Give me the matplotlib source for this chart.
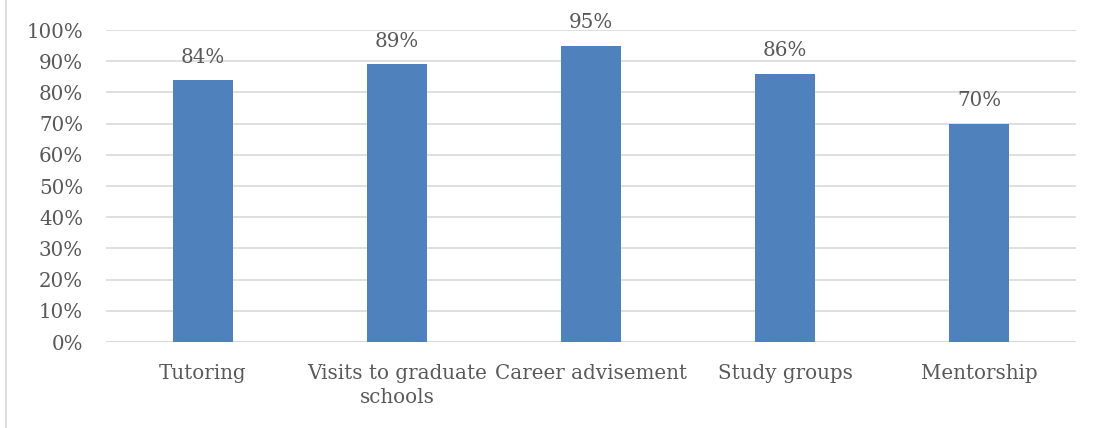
import matplotlib
matplotlib.use("Agg")
import matplotlib.pyplot as plt
from matplotlib.lines import Line2D

categories = ["Tutoring", "Visits to graduate\nschools", "Career advisement", "Study groups", "Mentorship"]
values = [84, 89, 95, 86, 70]
yticks = [0, 10, 20, 30, 40, 50, 60, 70, 80, 90, 100]

plt.rcParams['font.family'] = ['DejaVu Serif']
txt = '#595959'
fs = 14.3
fig = plt.figure(figsize=(10.95, 4.28), dpi=100)
ax = fig.add_axes([106/1095, 1 - 342/428, 970/1095, 312/428])

x = list(range(len(categories)))
ax.bar(x, values, width=0.31, color='#4F81BD', zorder=3)
for xi, v in zip(x, values):
    ax.text(xi, v + 4.3, f"{v}%", ha='center', va='bottom', fontsize=fs, color=txt)

ax.set_xlim(-0.5, len(categories) - 0.5)
ax.set_ylim(0, 100)
ax.set_yticks(yticks)
ax.set_yticklabels([f"{t}%" for t in yticks])
ax.set_xticks(x)
ax.set_xticklabels(categories, linespacing=1.35)
ax.tick_params(axis='y', length=0, pad=16.5, labelsize=fs, labelcolor=txt)
ax.tick_params(axis='x', length=0, pad=16, labelsize=fs, labelcolor=txt)
ax.grid(axis='y', color='#D9D9D9', linewidth=1.2, zorder=0)
for s in ax.spines.values():
    s.set_visible(False)
ax.axhline(0, color='#D9D9D9', linewidth=1.5, zorder=2)

fig.add_artist(Line2D([5.5/1095, 5.5/1095], [0, 1], color='#D9D9D9', linewidth=1.2))

fig.savefig("out.png", dpi=100)
